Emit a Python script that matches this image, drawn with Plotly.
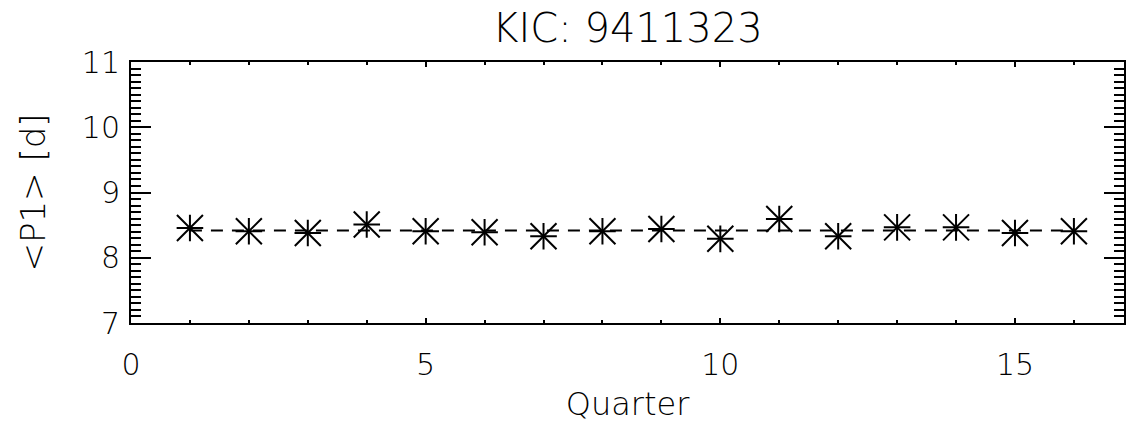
import plotly.graph_objects as go
import numpy as np

quarters = list(range(1, 17))
p1_mean = [8.457, 8.405, 8.38, 8.51, 8.405, 8.39, 8.33, 8.405,
           8.44, 8.29, 8.595, 8.33, 8.466, 8.466, 8.38, 8.405]
title_text = "KIC: 9411323"
x_label = "Quarter"
y_label = "<P1> [d]"
x_ticks = [0, 5, 10, 15]
y_ticks = [7, 8, 9, 10, 11]

overall_mean = float(np.mean(p1_mean))

FAM = "DejaVu Sans, sans-serif"
TICKFONT = dict(family=FAM, size=30, color="black", weight=200)
XLABFONT = dict(family=FAM, size=32, color="black", weight=200)
YLABFONT = dict(family=FAM, size=34, color="black", weight=200)
TITLEFONT = dict(family=FAM, size=40, color="black", weight=200)

fig = go.Figure()
# dashed mean line
fig.add_trace(go.Scatter(
    x=[quarters[0], quarters[-1]], y=[overall_mean, overall_mean],
    mode="lines", line=dict(color="black", width=2, dash="12px,9px"),
    showlegend=False, hoverinfo="skip"))
# asterisks: orthogonal arms
fig.add_trace(go.Scatter(
    x=quarters, y=p1_mean, mode="markers",
    marker=dict(symbol="cross-thin-open", size=19, color="black",
                line=dict(color="black", width=2)),
    showlegend=False))
# asterisks: diagonal arms
fig.add_trace(go.Scatter(
    x=quarters, y=p1_mean, mode="markers",
    marker=dict(symbol="x-thin-open", size=26, color="black",
                line=dict(color="black", width=2)),
    showlegend=False))

fig.update_layout(
    width=1128, height=424,
    margin=dict(l=131, r=2, t=62, b=101),
    paper_bgcolor="white", plot_bgcolor="white",
    font=TICKFONT,
    title=dict(text=title_text, x=0.5, xref="paper", xanchor="center",
               y=1 - 28 / 424, yanchor="middle", font=TITLEFONT),
)
fig.update_xaxes(
    range=[0, 16.85], tickvals=x_ticks, ticks="inside", ticklen=5, tickwidth=2,
    tickcolor="black", showline=True, linewidth=2, linecolor="black", mirror="ticks",
    showgrid=False, zeroline=False,
    minor=dict(dtick=1, ticks="inside", ticklen=3, tickwidth=2, tickcolor="black", showgrid=False),
    title=dict(text=x_label, font=XLABFONT, standoff=12), tickfont=TICKFONT,
    ticklabelstandoff=14,
)
fig.update_yaxes(
    range=[7, 11], tickvals=y_ticks, ticks="inside", ticklen=20, tickwidth=2,
    tickcolor="black", showline=True, linewidth=2, linecolor="black", mirror="ticks",
    showgrid=False, zeroline=False,
    minor=dict(dtick=0.1, tick0=7, ticks="inside", ticklen=10, tickwidth=2, tickcolor="black", showgrid=False),
    title=dict(text=y_label, font=YLABFONT, standoff=26), tickfont=TICKFONT,
    ticklabelstandoff=3,
)

fig.write_html("out.html")
